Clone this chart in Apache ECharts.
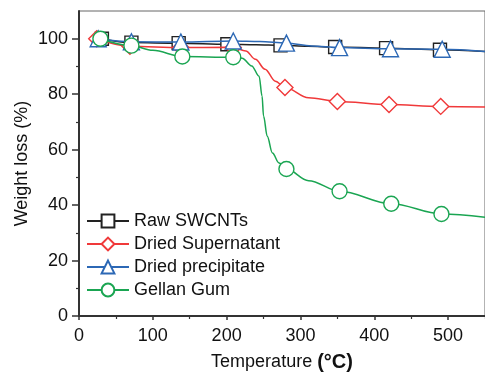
<!DOCTYPE html>
<html>
<head>
<meta charset="utf-8">
<script src="https://cdn.jsdelivr.net/npm/echarts@6/dist/echarts.min.js"></script>
<style>
  html, body { margin: 0; padding: 0; background: #fff; }
  #chart { width: 485px; height: 377px; }
</style>
</head>
<body>
<div id="chart"></div>
<script>
// temperatures (°C) and weight (%); *Mark = temps that carry a marker
const rawT = [31, 71, 135, 201, 240, 273, 310, 347, 416, 489, 550];
const rawW = [100, 98.6, 98.4, 98.0, 97.8, 97.6, 97.3, 97.0, 96.6, 96.0, 95.4];
const rawMark = [31, 71, 135, 201, 273, 347, 416, 489];

const supT = [24, 69, 138, 199, 209, 226, 239, 252, 266, 279, 311, 350, 420, 490, 550];
const supW = [100, 97.3, 96.8, 96.9, 96.8, 95.6, 92.6, 89.0, 84.7, 82.4, 78.7, 77.4, 76.3, 75.6, 75.4];
const supMark = [24, 69, 138, 209, 279, 350, 420, 490];

const preT = [26, 71, 138, 209, 245, 281, 315, 353, 422, 492, 550];
const preW = [100, 98.9, 98.8, 99.2, 99.0, 98.4, 97.4, 96.8, 96.4, 96.2, 95.4];
const preMark = [26, 71, 138, 209, 281, 353, 422, 492];

const gelT = [29, 71, 100, 140, 209, 221, 234, 244, 248, 250, 255, 262, 271, 281, 311, 353, 423, 491, 550];
const gelW = [100, 97.5, 95.8, 93.6, 93.3, 93.0, 90.2, 86.5, 79.3, 72.1, 64.8, 58.8, 55.2, 53.0, 48.8, 45.0, 40.5, 36.8, 35.6];
const gelMark = [29, 71, 140, 209, 281, 353, 423, 491];

const names = ['Raw SWCNTs', 'Dried Supernatant', 'Dried precipitate', 'Gellan Gum'];
const colors = ['#222222', '#f0393a', '#2c68b5', '#1aa552'];
const symbols = ['rect', 'diamond', 'triangle', 'circle'];
const sizes = [13, 16, 16, 15];

const xTicks = [0, 100, 200, 300, 400, 500];
const xMinor = [50, 150, 250, 350, 450, 550];
const yTicks = [0, 20, 40, 60, 80, 100];
const yMinor = [10, 30, 50, 70, 90];

const font = 'Liberation Sans, Arial, sans-serif';

function build(T, W, mark) {
  return T.map((t, i) => ({
    value: [t, W[i]],
    symbol: mark.includes(t) ? undefined : 'none'
  }));
}

const sets = [[rawT, rawW, rawMark], [supT, supW, supMark], [preT, preW, preMark], [gelT, gelW, gelMark]];

const chart = echarts.init(document.getElementById('chart'));

const xBase = {
  type: 'value', min: 0, max: 550, interval: 50,
  splitLine: { show: false }
};
const yBase = {
  type: 'value', min: 0, max: 110, interval: 10,
  splitLine: { show: false }
};

chart.setOption({
  animation: false,
  textStyle: { fontFamily: font },
  grid: {
    left: 79, right: -2, top: 11, bottom: 61,
    show: true, borderColor: '#666', borderWidth: 1, backgroundColor: 'transparent'
  },
  legend: {
    orient: 'vertical', left: 81, top: 207,
    itemWidth: 42, itemHeight: 16, itemGap: 5,
    textStyle: { fontSize: 18, color: '#111', fontFamily: font },
    data: names
  },
  xAxis: [
    Object.assign({}, xBase, {
      name: 'Temperature {b|(°C)}',
      nameLocation: 'middle', nameGap: 36, nameMoveOverlap: false,
      nameTextStyle: {
        fontSize: 18, color: '#111',
        rich: { b: { fontSize: 20, fontWeight: 'bold', color: '#111', fontFamily: font } }
      },
      axisLine: { lineStyle: { color: '#333', width: 2 } },
      axisTick: { customValues: xTicks, length: 4, lineStyle: { color: '#333', width: 1.5 } },
      axisLabel: { customValues: xTicks, fontSize: 18, color: '#111', margin: 11 }
    }),
    Object.assign({}, xBase, {
      position: 'bottom',
      axisLine: { show: false },
      axisTick: { customValues: xMinor, length: 3, lineStyle: { color: '#333', width: 1.2 } },
      axisLabel: { show: false }
    })
  ],
  yAxis: [
    Object.assign({}, yBase, {
      name: 'Weight loss (%)',
      nameLocation: 'middle', nameGap: 48, nameMoveOverlap: false,
      nameTextStyle: { fontSize: 18, color: '#111' },
      axisLine: { show: true, lineStyle: { color: '#333', width: 2 } },
      axisTick: { show: true, customValues: yTicks, length: 7, lineStyle: { color: '#333', width: 1.5 } },
      axisLabel: { customValues: yTicks, fontSize: 18, color: '#111', margin: 11 }
    }),
    Object.assign({}, yBase, {
      position: 'left',
      axisLine: { show: false },
      axisTick: { show: true, customValues: yMinor, length: 3, lineStyle: { color: '#333', width: 1.2 } },
      axisLabel: { show: false }
    })
  ],
  series: sets.map((s, i) => ({
    name: names[i],
    type: 'line',
    data: build(s[0], s[1], s[2]),
    smooth: 0.35,
    smoothMonotone: 'x',
    symbol: symbols[i],
    symbolSize: sizes[i],
    showAllSymbol: true,
    color: colors[i],
    lineStyle: { color: colors[i], width: 1.5 },
    itemStyle: { color: '#fff', borderColor: colors[i], borderWidth: 1.4 },
    z: 2 + i
  }))
});
</script>
</body>
</html>
